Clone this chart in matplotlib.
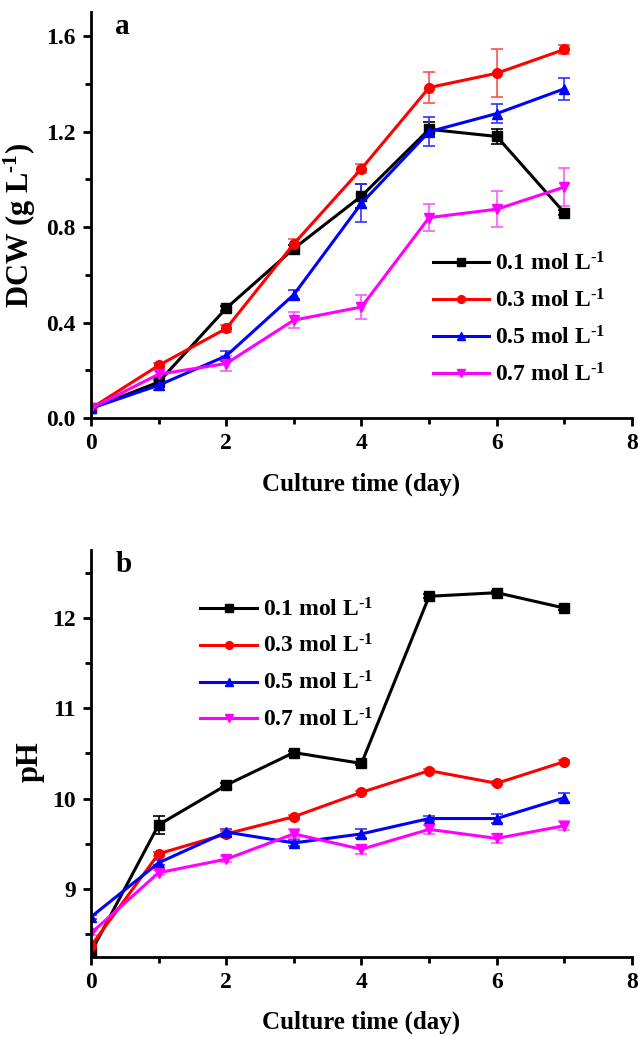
import matplotlib
matplotlib.use("Agg")
import matplotlib.pyplot as plt
from matplotlib.ticker import MultipleLocator

plt.rcParams['font.family'] = 'Liberation Serif'
plt.rcParams['font.weight'] = 'bold'
plt.rcParams['mathtext.fontset'] = 'custom'
plt.rcParams['mathtext.rm'] = 'Liberation Serif:bold'
plt.rcParams['mathtext.bf'] = 'Liberation Serif:bold'
plt.rcParams['mathtext.default'] = 'rm'

# data
days = [0, 1, 2, 3, 4, 5, 6, 7]
labels = [r'0.1 mol L$^{\text{-1}}$', r'0.3 mol L$^{\text{-1}}$',
          r'0.5 mol L$^{\text{-1}}$', r'0.7 mol L$^{\text{-1}}$']

dcw_01 = [0.04, 0.15, 0.46, 0.71, 0.93, 1.21, 1.18, 0.86]
dcw_03 = [0.04, 0.22, 0.375, 0.73, 1.045, 1.385, 1.445, 1.545]
dcw_05 = [0.04, 0.137, 0.26, 0.517, 0.90, 1.20, 1.276, 1.38]
dcw_07 = [0.04, 0.183, 0.228, 0.41, 0.465, 0.84, 0.875, 0.968]

dcw_err_01 = [0.005, 0.01, 0.01, 0.015, 0.05, 0.03, 0.03, 0.01]
dcw_err_03 = [0.005, 0.01, 0.015, 0.02, 0.02, 0.065, 0.10, 0.02]
dcw_err_05 = [0.005, 0.02, 0.02, 0.02, 0.08, 0.06, 0.04, 0.045]
dcw_err_07 = [0.005, 0.02, 0.03, 0.035, 0.05, 0.055, 0.075, 0.08]

ph_01 = [8.30, 9.71, 10.15, 10.51, 10.39, 12.24, 12.28, 12.11]
ph_03 = [8.37, 9.39, 9.61, 9.80, 10.07, 10.31, 10.17, 10.41]
ph_05 = [8.69, 9.29, 9.63, 9.51, 9.61, 9.78, 9.78, 10.01]
ph_07 = [8.51, 9.18, 9.33, 9.61, 9.44, 9.66, 9.56, 9.70]

ph_err_01 = [0.02, 0.1, 0.02, 0.02, 0.02, 0.02, 0.02, 0.02]
ph_err_03 = [0.02, 0.02, 0.03, 0.02, 0.02, 0.02, 0.02, 0.02]
ph_err_05 = [0.02, 0.03, 0.03, 0.03, 0.05, 0.03, 0.05, 0.05]
ph_err_07 = [0.02, 0.03, 0.03, 0.05, 0.05, 0.05, 0.05, 0.05]

colors = ['black', 'red', 'blue', 'magenta']
err_colors = ['black', (1, 0.3, 0.3), (0.2, 0.2, 1), (1, 0.35, 1)]
markers = ['s', 'o', '^', 'v']

fig = plt.figure(figsize=(6.38, 10.37), dpi=100)
ax_a = fig.add_axes([0.1426, 0.597, 0.848, 0.391])
ax_b = fig.add_axes([0.1426, 0.0774, 0.848, 0.392])


def draw_panel(ax, series, errors):
    for y, e, c, ec, m, lab in zip(series, errors, colors, err_colors, markers, labels):
        ax.errorbar(days, y, yerr=e, color=c, marker=m, markersize=7, linewidth=2.2,
                    ecolor=ec, elinewidth=1.2, capsize=4, capthick=1.2, label=lab)
    ax.spines['top'].set_visible(False)
    ax.spines['right'].set_visible(False)
    ax.spines['left'].set_linewidth(2)
    ax.spines['bottom'].set_linewidth(2)
    ax.set_xlim(0, 8)
    ax.xaxis.set_major_locator(MultipleLocator(2))
    ax.xaxis.set_minor_locator(MultipleLocator(1))
    ax.tick_params(which='major', direction='out', length=6, width=2, labelsize=17, pad=5)
    ax.tick_params(which='minor', direction='out', length=4, width=2)
    ax.set_xlabel('Culture time (day)', fontsize=18, fontweight='bold', labelpad=13)
    h, l = ax.get_legend_handles_labels()
    return [x[0] for x in h], l


h, l = draw_panel(ax_a, [dcw_01, dcw_03, dcw_05, dcw_07], [dcw_err_01, dcw_err_03, dcw_err_05, dcw_err_07])
ax_a.set_ylim(0, 1.7)
ax_a.yaxis.set_minor_locator(MultipleLocator(0.2))
ax_a.set_yticks([0.0, 0.4, 0.8, 1.2, 1.6])
ax_a.set_yticklabels(['0.0', '0.4', '0.8', '1.2', '1.6'])
ax_a.set_ylabel(r'DCW (g L$^{\text{-1}}$)', fontsize=22, fontweight='bold')
ax_a.yaxis.set_label_coords(-0.098, 0.475)
ax_a.text(0.045, 0.965, 'a', transform=ax_a.transAxes, fontsize=21, fontweight='bold', va='center')
ax_a.legend(h, l, loc='upper left', bbox_to_anchor=(0.61, 0.437), frameon=False, fontsize=17,
            handlelength=2.4, handletextpad=0.25, labelspacing=0.58, markerscale=0.8, borderpad=0)

h, l = draw_panel(ax_b, [ph_01, ph_03, ph_05, ph_07], [ph_err_01, ph_err_03, ph_err_05, ph_err_07])
ax_b.set_ylim(8.25, 12.75)
ax_b.yaxis.set_major_locator(MultipleLocator(1))
ax_b.yaxis.set_minor_locator(MultipleLocator(0.5))
ax_b.set_ylabel('pH', fontsize=22, fontweight='bold')
ax_b.yaxis.set_label_coords(-0.085, 0.479)
ax_b.text(0.045, 0.965, 'b', transform=ax_b.transAxes, fontsize=21, fontweight='bold', va='center')
ax_b.legend(h, l, loc='upper left', bbox_to_anchor=(0.18, 0.912), frameon=False, fontsize=17,
            handlelength=2.4, handletextpad=0.25, labelspacing=0.58, markerscale=0.8, borderpad=0)

fig.savefig('out.png', dpi=100)
